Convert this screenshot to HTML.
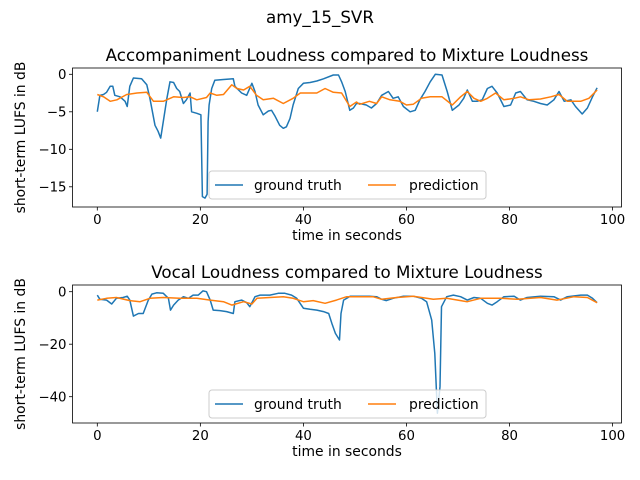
<!DOCTYPE html>
<html><head><meta charset="utf-8"><style>
body{margin:0;background:#fff;}
svg{display:block;font-family:"DejaVu Sans","Liberation Sans",sans-serif;}
</style></head><body>
<svg id="fig" width="640" height="480" viewBox="0 0 640 480">
<rect width="640" height="480" fill="#fff"/>
<text x="320" y="23" font-size="16.7" text-anchor="middle">amy_15_SVR</text>
</svg>
<script>
const accTimesGT=[0,0.5,1.2,1.8,2.5,3,3.4,4.4,5.4,5.8,6.3,7,8.6,9.6,10.2,11.2,11.8,12.3,12.8,13.5,14.1,14.8,15.4,16,16.7,17.3,18,18.3,19.3,20.1,20.4,20.9,21.3,21.5,21.7,22.2,22.8,24.5,26.4,26.7,28,29,30,30.6,31.2,32.2,33.2,33.8,34.5,35.4,36.1,36.7,37.4,38,39,40,41.3,42.6,43.9,45.8,46.8,47.4,48.1,49,49.7,50.3,50.9,52.2,53.2,54.2,55.2,56.5,57.4,58.4,59.4,60.7,61.7,62.6,63.6,64.6,65.6,66.9,67.9,68.9,70.2,71.1,71.8,72.8,73.7,74.7,75.7,76.6,77.6,78.9,80.2,81.2,82.1,83.4,84.7,86,87.3,88.6,89.6,90.6,91.9,92.8,94.1,95.1,96.1,97];
const accGT=[-5,-2.8,-2.7,-2.4,-1.6,-1.6,-2.8,-3,-3.6,-4.3,-1.6,-0.5,-0.6,-1.4,-3.2,-6.8,-7.6,-8.5,-6.3,-3.2,-1,-1.1,-1.9,-2.3,-3.9,-3.4,-2.5,-5,-5.2,-5.4,-16.3,-16.5,-16,-6.3,-4.1,-1.9,-0.8,-0.7,-0.6,-1.6,-2.5,-2.8,-1.2,-2.3,-4.1,-5.4,-4.9,-4.8,-5.6,-6.8,-7.2,-7,-5.9,-4.1,-1.9,-1.2,-1.1,-0.9,-0.6,-0.1,-0.1,-1,-2.3,-4.8,-4.5,-3.9,-3.9,-4.1,-4.5,-3.9,-2.8,-2.3,-3.2,-3,-4.3,-5,-4.8,-3.4,-2.3,-1,0,-0.1,-2.3,-4.8,-4.1,-3.2,-2.1,-3.6,-3.6,-3.4,-1.9,-1.6,-2.5,-4.3,-4.1,-2.5,-2.3,-3.4,-3.6,-3.9,-4.1,-3.4,-2.3,-3.6,-3.4,-4.3,-5.3,-4.5,-3,-1.8];
const accTimesPred=[0,1.2,2.5,3.8,5.7,7.7,9.6,10.9,12.8,14.8,16.7,18,19.3,21.2,21.9,23.2,24.5,26.1,27.1,28.4,29.6,30.9,32.2,34.2,36.1,38,39.4,41.3,42.6,44.2,45.8,47.4,49,50.3,50.9,52.8,54.2,55.2,56.8,58.7,60,61.3,62.9,64.6,66.9,68.9,70.5,71.8,73.1,74.4,75.7,77.3,78.9,80.9,82.1,83.8,86,88,89.6,91.2,93.8,95.4,97];
const accPred=[-2.7,-3,-3.6,-3.4,-2.7,-2.5,-2.4,-3.6,-3.6,-3,-3.1,-3,-3.4,-3.1,-2.5,-2.8,-2.7,-1.4,-1.9,-2.1,-1.6,-2.8,-3.4,-3.2,-3.9,-3.2,-2.5,-2.5,-2.5,-1.9,-2.4,-2.5,-4.3,-3.7,-4,-3.6,-3.9,-3,-3.4,-3.6,-4.1,-4,-3.2,-3,-3,-4.1,-3,-2.3,-3.2,-3.6,-3.2,-2.5,-3.4,-3.2,-3,-3.4,-3.3,-3,-2.7,-3.6,-3.6,-3.2,-2.1];
const vocTimesGT=[0,0.5,1.8,2.8,3.7,5,5.8,6.3,7,8,8.9,9.9,10.6,11.5,12.8,13.8,14.2,14.8,15.7,16.7,17.7,18.6,19.6,20.5,21.2,21.9,22.5,23.8,25.1,26.4,26.7,28,29,29.6,30.6,31.6,33.5,35.1,36.4,37.7,38.7,40,41.3,42.6,43.9,44.9,45.5,46.2,47,47.3,47.8,49.1,50.9,52.8,54.2,55.2,56.1,57.4,59.4,61.3,62.9,63.9,64.9,65.5,66,66.5,66.8,67.8,69.1,70.5,71.8,73.1,74.4,75.7,76.6,77.6,78.9,80.9,82.1,83.4,86,88.6,89.9,91.2,93.8,95.1,96.1,97];
const vocGT=[-1.3,-2.9,-3.2,-4.7,-2.5,-2.2,-1.7,-3.2,-9.3,-8.3,-8.3,-3.2,-0.9,-0.4,-0.6,-2.5,-7,-5.1,-3.2,-1.9,-2.5,-1.3,-1.3,0.3,0,-3.2,-7,-7.2,-7.6,-8.3,-3.8,-3.2,-4.2,-5.7,-1.9,-1.3,-1.3,-0.6,-0.6,-1.3,-2.5,-6.3,-6.7,-7,-7.6,-8.3,-12,-15.9,-18.4,-8.3,-3.2,-1.7,-1.7,-1.7,-1.9,-2.9,-3.4,-2.5,-1.7,-1.7,-2.5,-3.8,-10.8,-23.5,-46.3,-36.2,-5.7,-1.9,-1.3,-1.9,-3.2,-2.2,-2.5,-4.4,-5.1,-3.8,-1.9,-1.7,-3.2,-2.2,-1.7,-1.9,-3.2,-1.9,-1.3,-1.3,-2.5,-4.2];
const vocTimesPred=[0,1.8,3.7,6.3,8.3,10.2,12.8,16,19.3,21.9,24.5,26.1,28.4,30,31,33.5,36.1,38,40,41.9,44.2,46.4,48.4,53.5,55.2,58.1,61.3,65.2,67.8,71.8,74.4,78.3,81.5,86,89.2,92.5,95.1,97];
const vocPred=[-3.2,-2.5,-2.2,-3.4,-3.8,-2.5,-2.2,-2.5,-2.5,-3.2,-3.8,-5.1,-3.8,-4.7,-2.5,-2.2,-1.9,-2.5,-3.8,-3.4,-4.4,-3.2,-1.9,-1.9,-2.9,-2.2,-1.7,-2.9,-2.5,-3.8,-2.5,-2.5,-2.9,-2.2,-3.2,-1.9,-2.2,-4.2];
const xTicks=[0,20,40,60,80,100];
const accYTicks=[0,-5,-10,-15];
const vocYTicks=[0,-20,-40];

const svg=document.getElementById('fig');
const NS='http://www.w3.org/2000/svg';
function mk(tag,attrs,parent){const e=document.createElementNS(NS,tag);for(const k in attrs)e.setAttribute(k,attrs[k]);(parent||svg).appendChild(e);return e;}

function panel(cfg){
  const g=mk('g',{});
  
  
  const L=72.5,R=621.5,T=cfg.top,B=cfg.bottom;
  const xs=t=>97.3+(t-0)*5.153;
  const ys=v=>cfg.y0+(v)*(-cfg.ppu);
  const clip='clip-'+cfg.name;
  const cp=mk('clipPath',{id:clip},g);mk('rect',{x:L,y:T,width:R-L,height:B-T},cp);
  const pathOf=(ts,vs)=>ts.map((t,i)=>(i?'L':'M')+xs(t).toFixed(1)+','+ys(vs[i]).toFixed(1)).join('');
  const gt=mk('path',{d:pathOf(cfg.tg,cfg.vg),fill:'none',stroke:'#1f77b4','stroke-width':1.5,'stroke-linejoin':'round','clip-path':'url(#'+clip+')'},g);
  
  
  const pr=mk('path',{d:pathOf(cfg.tp,cfg.vp),fill:'none',stroke:'#ff7f0e','stroke-width':1.5,'stroke-linejoin':'round','clip-path':'url(#'+clip+')'},g);
  
  
  const fr=mk('rect',{x:L,y:T,width:R-L,height:B-T,fill:'none',stroke:'#000','stroke-width':0.8},g);
  
  
  xTicks.forEach(t=>{const x=xs(t);mk('line',{x1:x,x2:x,y1:B,y2:B+3.5,stroke:'#000','stroke-width':0.8},g);
    const tx=mk('text',{x:x,y:B+17,'font-size':13.3,'text-anchor':'middle'},g);tx.textContent=t;
    
    });
  cfg.yt.forEach(v=>{const y=ys(v);mk('line',{x1:L-3.5,x2:L,y1:y,y2:y,stroke:'#000','stroke-width':0.8},g);
    const tx=mk('text',{x:L-6,y:y+4.8,'font-size':13.3,'text-anchor':'end'},g);tx.textContent=(v<0?'\u2212'+(-v):v);
    
    });
  const xl=mk('text',{x:(L+R)/2,y:B+33,'font-size':13.9,'text-anchor':'middle'},g);xl.textContent='time in seconds';
  
  
  const cy=(T+B)/2;
  const yl=mk('text',{x:25,y:cy,'font-size':13.9,'text-anchor':'middle',transform:'rotate(-90 25 '+cy+')'},g);yl.textContent='short-term LUFS in dB';
  
  
  const tt=mk('text',{x:(L+R)/2,y:T-7,'font-size':16.7,'text-anchor':'middle'},g);tt.textContent=cfg.title;
  
  
  const lg=mk('g',{},g);
  
  
  const ly=cfg.legY;
  mk('rect',{x:209,y:ly,width:277,height:28,rx:3,fill:'#fff','fill-opacity':0.8,stroke:'#ccc','stroke-width':1},lg);
  mk('line',{x1:215,x2:243,y1:ly+14,y2:ly+14,stroke:'#1f77b4','stroke-width':1.5},lg);
  const l1=mk('text',{x:254,y:ly+19,'font-size':13.9},lg);l1.textContent='ground truth';
  
  
  mk('line',{x1:368,x2:396,y1:ly+14,y2:ly+14,stroke:'#ff7f0e','stroke-width':1.5},lg);
  const l2=mk('text',{x:409,y:ly+19,'font-size':13.9},lg);l2.textContent='prediction';
  
  
}
panel({name:'accompaniment-panel',top:68,bottom:207,y0:74.3,ppu:7.5,tg:accTimesGT,vg:accGT,tp:accTimesPred,vp:accPred,yt:accYTicks,title:'Accompaniment Loudness compared to Mixture Loudness',legY:171});
panel({name:'vocal-panel',top:285,bottom:423,y0:291.7,ppu:2.625,tg:vocTimesGT,vg:vocGT,tp:vocTimesPred,vp:vocPred,yt:vocYTicks,title:'Vocal Loudness compared to Mixture Loudness',legY:390});
</script>
</body></html>
